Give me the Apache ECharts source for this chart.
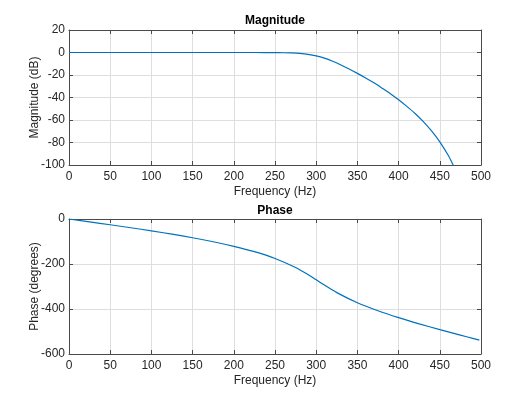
<!DOCTYPE html>
<html>
<head>
<meta charset="utf-8">
<script src="https://cdn.jsdelivr.net/npm/echarts@6/dist/echarts.min.js"></script>
<style>
  html, body { margin: 0; padding: 0; background: #fff; }
  #chart { width: 532px; height: 399px; }
</style>
</head>
<body>
<div id="chart"></div>
<script>
// values
const magFreq = [0, 50, 100, 150, 200, 225, 250, 260, 270, 280, 290, 300, 310, 320, 330, 340, 350, 360, 370, 380, 390, 400, 410, 420, 430, 440, 450, 460, 466, 468]
const magDb = [0, 0, 0, 0, 0, -0.02, -0.09, -0.2, -0.41, -0.83, -1.63, -3.01, -5.06, -7.83, -11.1, -14.68, -18.55, -22.62, -26.96, -31.71, -36.59, -41.94, -47.88, -54.21, -61.37, -69.69, -79.39, -91.17, -99.7, -102.9]
const phaseFreq = [0, 25, 50, 75, 100, 125, 150, 175, 200, 225, 250, 275, 290, 300, 310, 325, 350, 375, 400, 425, 450, 475, 490, 498]
const phaseDeg = [0, -12.7, -25.5, -38.8, -52.6, -67.4, -83.4, -101.2, -121.5, -145.3, -175.3, -215.5, -246.6, -270, -293.6, -327.1, -372.2, -407.8, -438.3, -465.8, -491.5, -516, -530.4, -538.1]
const freqTicks = { min: 0, max: 500, interval: 50 }
const magTicks = { min: -100, max: 20, interval: 20 }
const phaseTicks = { min: -600, max: 0, interval: 200 }

const lineColor = '#0072BD'
const boxColor = '#4a4a4a'
const textColor = '#262626'
const font = 'Liberation Sans, Arial, sans-serif'

function pairs(xs, ys) {
  return xs.map((x, i) => [x, ys[i]])
}

function mainX(grid) {
  return {
    type: 'value', gridIndex: grid, ...freqTicks,
    name: 'Frequency (Hz)', nameLocation: 'middle', nameGap: 21,
    nameTextStyle: { color: textColor, fontSize: 12, fontFamily: font },
    axisLine: { show: true, onZero: false, lineStyle: { color: boxColor } },
    axisTick: { show: true, inside: true, length: 4, lineStyle: { color: boxColor } },
    axisLabel: { color: textColor, fontSize: 12, fontFamily: font, margin: 6 },
    splitLine: { show: true, lineStyle: { color: '#dedede' } }
  }
}
function boxX(grid) {
  return {
    type: 'value', gridIndex: grid, position: 'top', ...freqTicks,
    axisLine: { show: true, onZero: false, lineStyle: { color: boxColor } },
    axisTick: { show: true, inside: true, length: 4, lineStyle: { color: boxColor } },
    axisLabel: { show: false }, splitLine: { show: false }
  }
}
function mainY(grid, ticks, name) {
  return {
    type: 'value', gridIndex: grid, ...ticks,
    name: name, nameLocation: 'middle', nameGap: 28, nameMoveOverlap: false,
    nameTextStyle: { color: textColor, fontSize: 12, fontFamily: font },
    axisLine: { show: true, onZero: false, lineStyle: { color: boxColor } },
    axisTick: { show: true, inside: true, length: 4, lineStyle: { color: boxColor } },
    axisLabel: { color: textColor, fontSize: 12, fontFamily: font, margin: 4 },
    splitLine: { show: true, lineStyle: { color: '#dedede' } }
  }
}
function boxY(grid, ticks) {
  return {
    type: 'value', gridIndex: grid, position: 'right', ...ticks,
    axisLine: { show: true, onZero: false, lineStyle: { color: boxColor } },
    axisTick: { show: true, inside: true, length: 4, lineStyle: { color: boxColor } },
    axisLabel: { show: false }, splitLine: { show: false }
  }
}

const chart = echarts.init(document.getElementById('chart'))
chart.setOption({
  animation: false,
  title: [
    { text: 'Magnitude', left: 275, top: 15, textAlign: 'center', padding: 0,
      textStyle: { fontSize: 12, fontWeight: 'bold', color: '#000', fontFamily: font } },
    { text: 'Phase', left: 275, top: 205, textAlign: 'center', padding: 0,
      textStyle: { fontSize: 12, fontWeight: 'bold', color: '#000', fontFamily: font } }
  ],
  grid: [
    { left: 69, right: 51, top: 30, height: 135 },
    { left: 69, right: 51, top: 219, height: 135 }
  ],
  xAxis: [mainX(0), boxX(0), mainX(1), boxX(1)],
  yAxis: [
    mainY(0, magTicks, 'Magnitude (dB)'), boxY(0, magTicks),
    mainY(1, phaseTicks, 'Phase (degrees)'), boxY(1, phaseTicks)
  ],
  series: [
    {
      type: 'line', xAxisIndex: 0, yAxisIndex: 0, data: pairs(magFreq, magDb),
      smooth: 0.3, showSymbol: false, clip: true,
      lineStyle: { color: lineColor, width: 1.2 }
    },
    {
      type: 'line', xAxisIndex: 2, yAxisIndex: 2, data: pairs(phaseFreq, phaseDeg),
      smooth: 0.3, showSymbol: false, clip: true,
      lineStyle: { color: lineColor, width: 1.2 }
    }
  ]
})
</script>
</body>
</html>
